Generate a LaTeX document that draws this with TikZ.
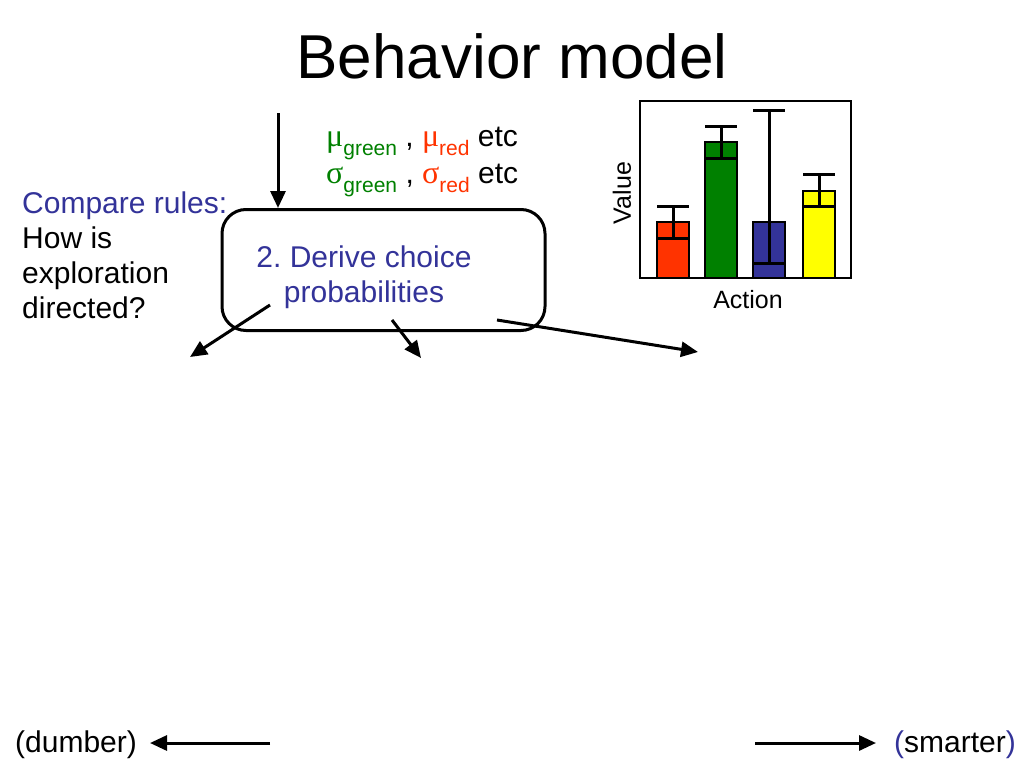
\documentclass[tikz,border=0pt]{standalone}
\usepackage{fontspec}
\setmainfont{Liberation Sans}
\newfontfamily\grk{Liberation Serif}
\usetikzlibrary{arrows.meta}
\frenchspacing
\definecolor{tblue}{RGB}{51,51,153}
\definecolor{tgreen}{RGB}{0,128,0}
\definecolor{tred}{RGB}{255,51,0}
\definecolor{tyellow}{RGB}{255,255,0}
\newcommand\mysub[1]{\raisebox{-0.33em}{\fontsize{21}{21}\selectfont #1}}
\newcommand\gr[1]{{\fontsize{32}{32}\selectfont\grk #1}}
\tikzset{
  body/.style={font=\fontsize{30}{35}\selectfont, inner sep=0pt, align=left},
  arr/.style={line width=3pt, -{Triangle[length=17pt,width=15pt]}},
  procbox/.style={draw, line width=3pt, rounded corners=24pt, minimum width=323pt, minimum height=121pt, inner sep=0pt},
  bar/.style={draw=black, line width=1.2pt},
  err/.style={line width=3pt},
}
\begin{document}
\begin{tikzpicture}[x=1pt,y=-1pt]
\useasboundingbox (0,0) rectangle (1024,768);
% title
\node[font=\fontsize{62}{62}\selectfont, inner sep=0pt, anchor=base] (title) at (512,78) {Behavior model};
% mu / sigma lines
\node[body, anchor=base west] (mu) at (326,146) {{\color{tgreen}\gr{μ}\mysub{green}} , {\color{tred}\gr{μ}\mysub{red}} etc};
\node[body, anchor=base west] (sigma) at (326,183) {{\color{tgreen}\gr{σ}\mysub{green}} , {\color{tred}\gr{σ}\mysub{red}} etc};
% compare rules (base anchor = last line)
\node[body, anchor=base west] (compare) at (22,318) {\textcolor{tblue}{Compare rules:}\\How is\\exploration\\directed?};
% box
\node[procbox] (box) at (383.5,270) {};
\node[body, align=center, text=tblue, anchor=base] (boxtext) at (364,302) {2. Derive choice\\probabilities};
% arrows
\coordinate (in) at (278,113);
\draw[arr] (in) -- (in |- box.north);
\coordinate (s1) at (270,305);
\coordinate (e1) at (190,357);
\coordinate (s2) at (392,320);
\coordinate (e2) at (421,358);
\coordinate (s3) at (497,320);
\coordinate (e3) at (698,352);
\draw[arr] (s1) -- (e1);
\draw[arr] (s2) -- (e2);
\draw[arr] (s3) -- (e3);
% chart
\draw[line width=2pt] (640,101) rectangle (851,278);
\fill[tred] (657,222) rectangle (689,278); \draw[bar] (657,222) rectangle (689,278);
\fill[tgreen] (705,142) rectangle (737,278); \draw[bar] (705,142) rectangle (737,278);
\fill[tblue] (753,222) rectangle (785,278); \draw[bar] (753,222) rectangle (785,278);
\fill[tyellow] (803,191) rectangle (835,278); \draw[bar] (803,191) rectangle (835,278);
\draw[err] (673,206) -- (673,238) (657,206) -- (689,206) (657,238) -- (689,238);
\draw[err] (721,126) -- (721,158) (705,126) -- (737,126) (705,158) -- (737,158);
\draw[err] (769,110) -- (769,263) (753,110) -- (785,110) (753,263) -- (785,263);
\draw[err] (819,174) -- (819,206) (803,174) -- (835,174) (803,206) -- (835,206);
\node[font=\fontsize{25}{25}\selectfont, inner sep=0pt, rotate=90] (value) at (622,193) {Value};
\node[font=\fontsize{25}{25}\selectfont, inner sep=0pt, anchor=base] (action) at (748,308) {Action};
% bottom
\node[body, anchor=base west] (dumber) at (15,752) {(dumber)};
\node[body, anchor=base east] (smarter) at (1016,752) {\textcolor{tblue}{(}smarter\textcolor{tblue}{)}};
\coordinate (l1) at (270,743);
\coordinate (l2) at (150,743);
\coordinate (r1) at (755,743);
\coordinate (r2) at (876,743);
\draw[arr] (l1) -- (l2);
\draw[arr] (r1) -- (r2);
\end{tikzpicture}
\end{document}
